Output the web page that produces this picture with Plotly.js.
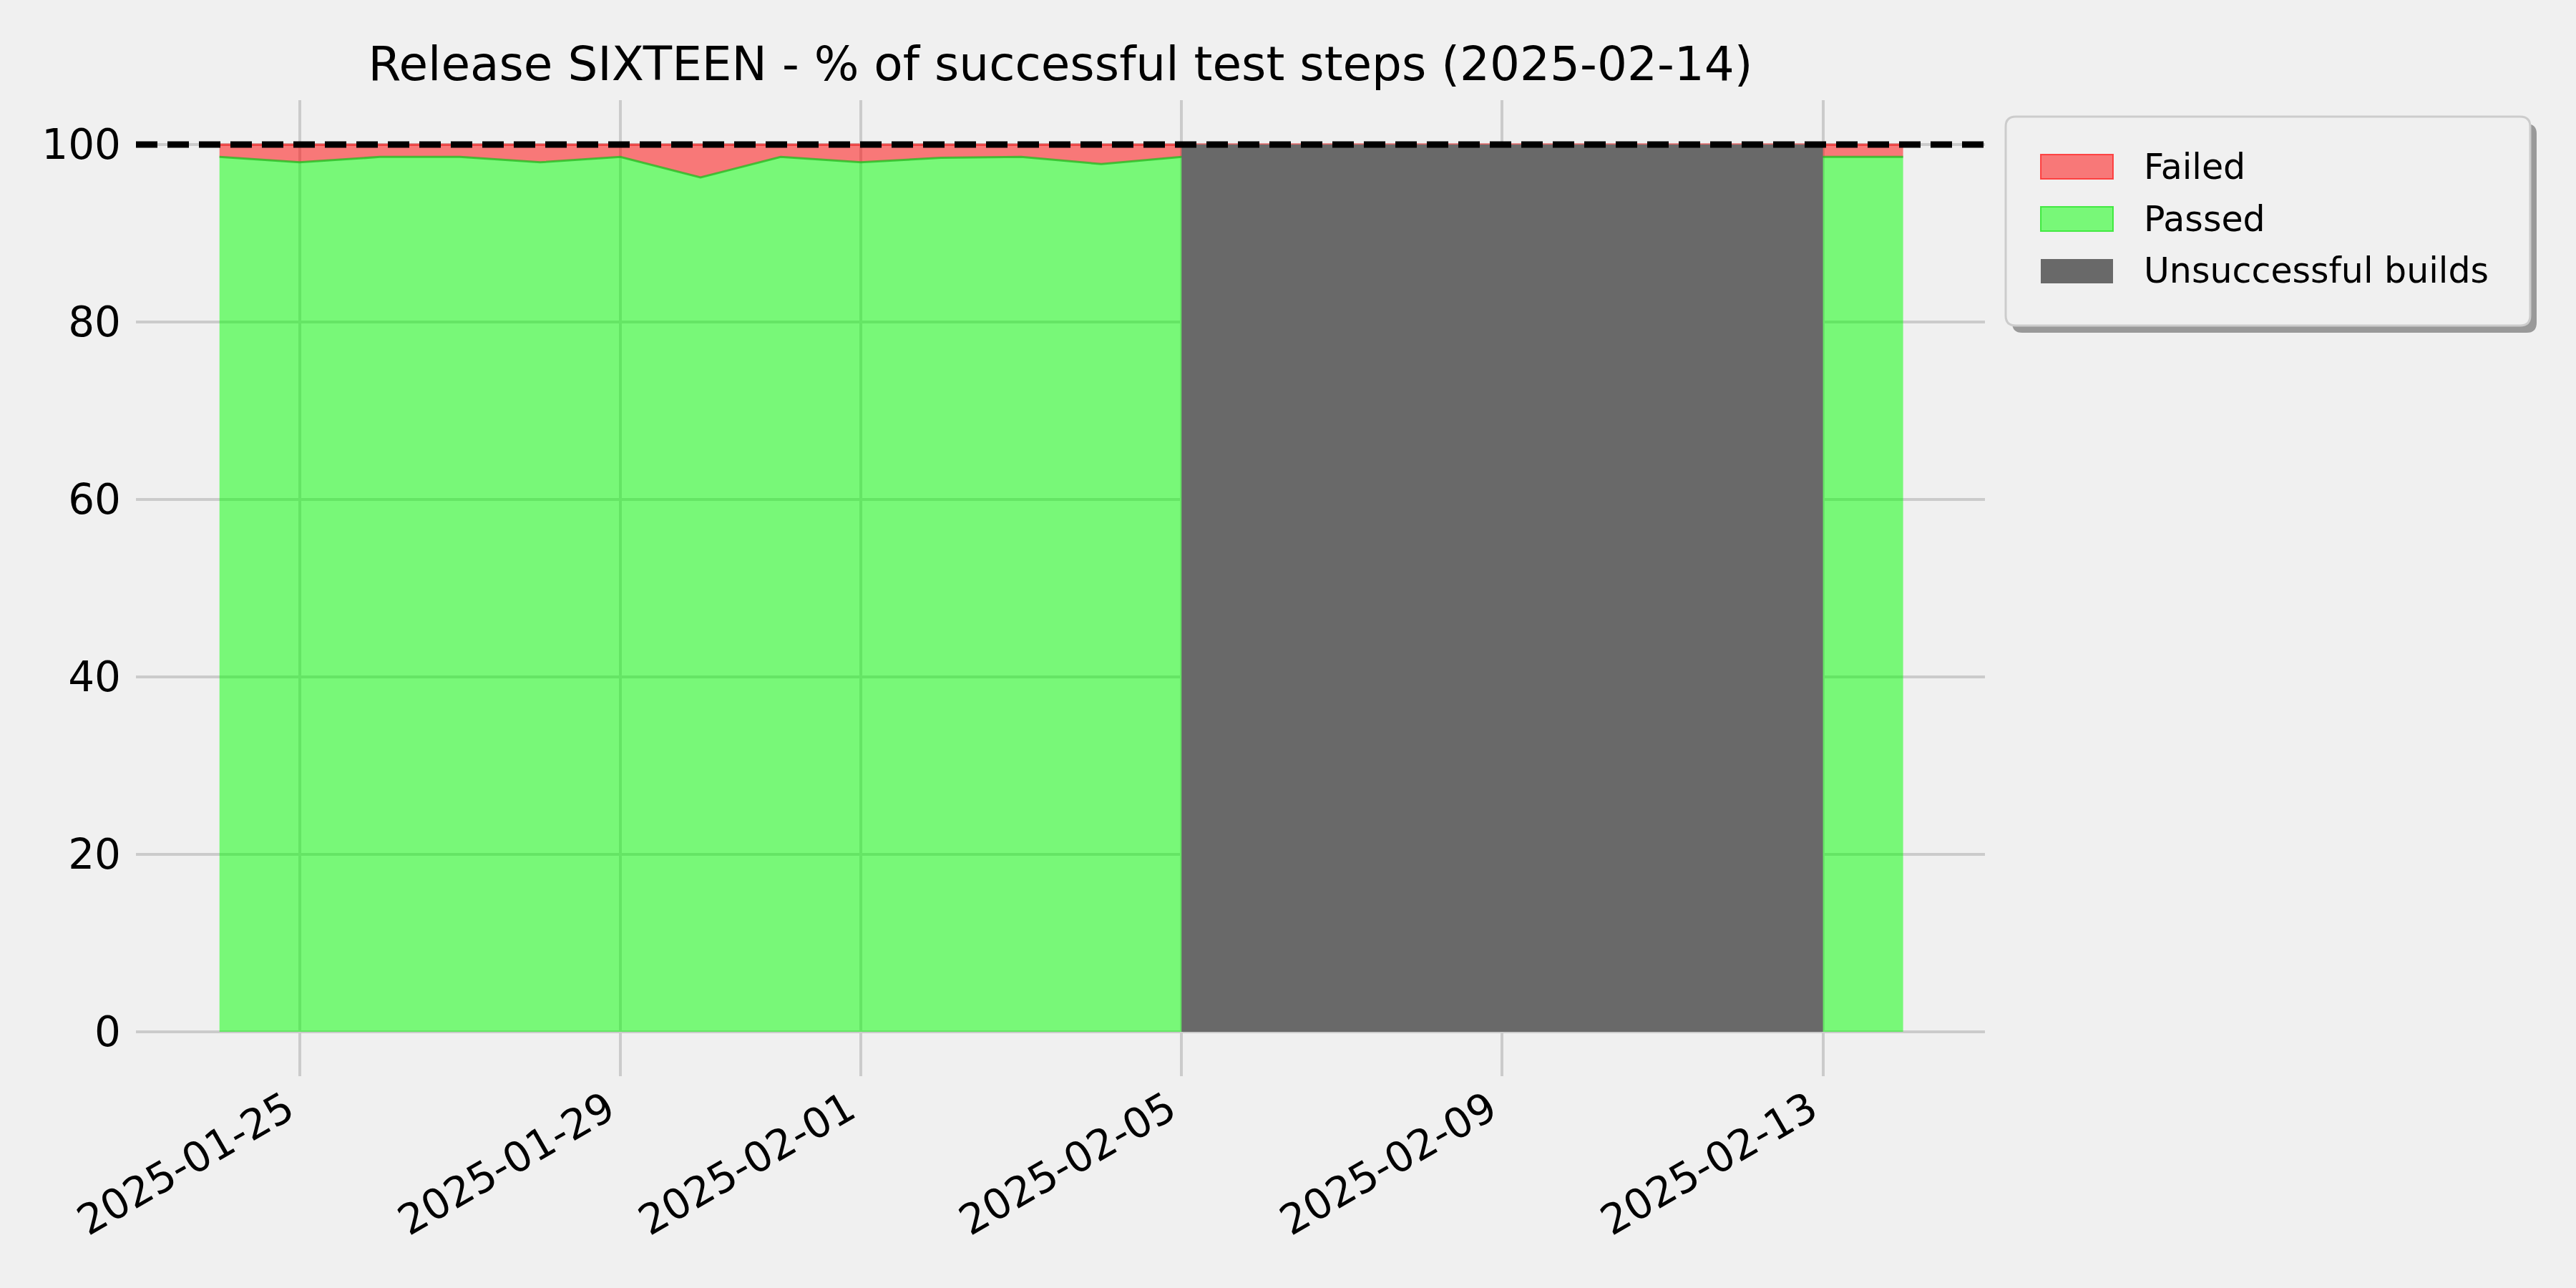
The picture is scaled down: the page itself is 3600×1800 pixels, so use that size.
<!DOCTYPE html>
<html>
<head>
<meta charset="utf-8">
<script src="https://cdn.plot.ly/plotly-3.0.1.min.js"></script>
<style>html,body{margin:0;padding:0;background:#f0f0f0;}</style>
</head>
<body>
<div id="chart" style="width:3600px;height:1800px;"></div>
<script>
// ---- data ----
const dates = ['2025-01-24','2025-01-25','2025-01-26','2025-01-27','2025-01-28','2025-01-29','2025-01-30',
               '2025-01-31','2025-02-01','2025-02-02','2025-02-03','2025-02-04','2025-02-05','2025-02-13','2025-02-14'];
const passed = [98.6, 98.0, 98.6, 98.6, 98.0, 98.6, 96.3, 98.6, 98.0, 98.5, 98.6, 97.8, 98.6, 98.6, 98.6];
const failed = [1.4, 2.0, 1.4, 1.4, 2.0, 1.4, 3.7, 1.4, 2.0, 1.5, 1.4, 2.2, 1.4, 1.4, 1.4];
const unsuccessfulDates = ['2025-02-05','2025-02-13'];
const unsuccessfulValues = [100, 100];
const targetLine = 100;
const xTickVals = ['2025-01-25','2025-01-29','2025-02-01','2025-02-05','2025-02-09','2025-02-13'];
const yTickVals = [0, 20, 40, 60, 80, 100];
const legendLabels = ['Failed', 'Passed', 'Unsuccessful builds'];
const titleText = 'Release SIXTEEN - % of successful test steps (2025-02-14)';

// ---- geometry (pixels) ----
const W = 3600, H = 1800;
const M = {l: 190, r: 826, t: 140, b: 296};
const plotW = W - M.l - M.r, plotH = H - M.t - M.b;
const px2x = p => (p - M.l) / plotW;
const px2y = p => (H - M.b - p) / plotH;
const FONT = 'DejaVu Sans, sans-serif';

const traces = [
  {x: dates, y: passed, name: 'Passed', type: 'scatter', mode: 'lines', stackgroup: 'one',
   fillcolor: 'rgba(0,255,0,0.5)', line: {color: 'rgba(30,190,30,0.75)', width: 3}, showlegend: false},
  {x: dates, y: failed, name: 'Failed', type: 'scatter', mode: 'lines', stackgroup: 'one',
   fillcolor: 'rgba(255,0,0,0.5)', line: {color: 'rgba(255,0,0,0.5)', width: 3}, showlegend: false},
  {x: unsuccessfulDates, y: unsuccessfulValues, name: 'Unsuccessful builds', type: 'scatter', mode: 'lines',
   fill: 'tozeroy', fillcolor: '#696969', line: {color: '#696969', width: 0}, showlegend: false}
];

// ---- custom legend (matplotlib-like fancy box with shadow) ----
function roundRect(x0, y0, x1, y1, r) {
  const X = v => px2x(v), Y = v => px2y(v);
  return `M${X(x0+r)},${Y(y0)} L${X(x1-r)},${Y(y0)} Q${X(x1)},${Y(y0)} ${X(x1)},${Y(y0+r)} ` +
         `L${X(x1)},${Y(y1-r)} Q${X(x1)},${Y(y1)} ${X(x1-r)},${Y(y1)} L${X(x0+r)},${Y(y1)} ` +
         `Q${X(x0)},${Y(y1)} ${X(x0)},${Y(y1-r)} L${X(x0)},${Y(y0+r)} Q${X(x0)},${Y(y0)} ${X(x0+r)},${Y(y0)} Z`;
}
const legBox = {x0: 2803, y0: 163, x1: 3536, y1: 455};
const swatchFill = ['rgba(255,0,0,0.5)', 'rgba(0,255,0,0.5)', '#696969'];
const swatchLine = ['rgba(255,40,40,0.8)', 'rgba(40,230,40,0.8)', '#696969'];
const rowCenters = [233, 306, 379];

const shapes = [
  {type: 'line', xref: 'paper', x0: 0, x1: 1, yref: 'y', y0: targetLine, y1: targetLine,
   line: {color: 'black', width: 9, dash: '30px,14px'}, layer: 'above'},
  {type: 'path', xref: 'paper', yref: 'paper', path: roundRect(legBox.x0 + 9, legBox.y0 + 10, legBox.x1 + 9, legBox.y1 + 10, 14),
   fillcolor: '#999999', line: {width: 0}, layer: 'above'},
  {type: 'path', xref: 'paper', yref: 'paper', path: roundRect(legBox.x0, legBox.y0, legBox.x1, legBox.y1, 14),
   fillcolor: '#f0f0f0', line: {color: '#cccccc', width: 3}, layer: 'above'}
];
const annotations = [];
legendLabels.forEach((lab, i) => {
  const c = rowCenters[i];
  shapes.push({type: 'rect', xref: 'paper', yref: 'paper',
    x0: px2x(2852), x1: px2x(2953), y0: px2y(c - 17), y1: px2y(c + 17),
    fillcolor: swatchFill[i], line: {color: swatchLine[i], width: i === 2 ? 0 : 2}, layer: 'above'});
  annotations.push({xref: 'paper', yref: 'paper', x: px2x(2994), y: px2y(c), xanchor: 'left', yanchor: 'middle',
    text: lab, showarrow: false, font: {family: FONT, size: 49, color: '#000'}});
});

const layout = {
  width: W, height: H,
  margin: M,
  paper_bgcolor: '#f0f0f0', plot_bgcolor: '#f0f0f0',
  font: {family: FONT, color: '#000'},
  showlegend: false,
  title: {text: titleText, font: {family: FONT, size: 66, color: '#000'},
          x: (M.l + plotW / 2) / W, xanchor: 'center', xref: 'container',
          y: 1 - 89 / H, yanchor: 'middle', yref: 'container'},
  xaxis: {type: 'date', range: ['2025-01-22 23:00', '2025-02-15 00:30'],
          tickvals: xTickVals, tickformat: '%Y-%m-%d', tickangle: -30,
          tickfont: {family: FONT, size: 58, color: '#000'},
          showgrid: true, gridcolor: '#cbcbcb', gridwidth: 4, zeroline: false, showline: false,
          ticks: '', ticklabelstandoff: 0, ticklabelshift: -18},
  yaxis: {range: [-5, 105], tickvals: yTickVals,
          tickfont: {family: FONT, size: 58, color: '#000'},
          showgrid: true, gridcolor: '#cbcbcb', gridwidth: 4, zeroline: false, showline: false,
          ticks: '', ticklabelstandoff: 20},
  shapes: shapes,
  annotations: annotations
};

Plotly.newPlot('chart', traces, layout, {staticPlot: true});
</script>
</body>
</html>
